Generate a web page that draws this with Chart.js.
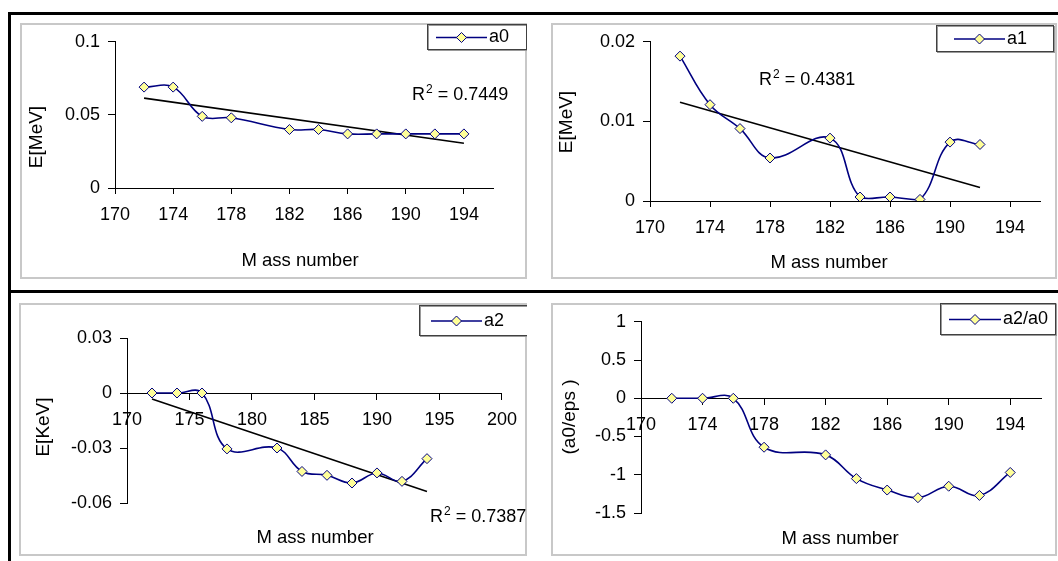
<!DOCTYPE html>
<html>
<head>
<meta charset="utf-8">
<script src="https://cdn.jsdelivr.net/npm/chart.js@4.4.1/dist/chart.umd.min.js"></script>
<style>
  body { margin: 0; background: #fff; width: 1058px; height: 561px; overflow: hidden; position: relative; }
  .bar { position: absolute; background: #000; }
  .frame { position: absolute; box-sizing: border-box; border: 2px solid #c8c8c8; }
  canvas { position: absolute; }
</style>
</head>
<body>
<div class="bar" style="left:8px;top:12px;width:1050px;height:3px"></div>
<div class="bar" style="left:8px;top:12px;width:3px;height:549px"></div>
<div class="bar" style="left:8px;top:290px;width:1050px;height:3px"></div>

<div class="frame" style="left:20px;top:23px;width:507px;height:256px"></div>
<div class="frame" style="left:551px;top:23px;width:506px;height:256px"></div>
<div class="frame" style="left:19px;top:303px;width:508px;height:253px"></div>
<div class="frame" style="left:551px;top:303px;width:506px;height:253px"></div>

<canvas id="chartA0"></canvas>
<canvas id="chartA1"></canvas>
<canvas id="chartA2"></canvas>
<canvas id="chartRatio"></canvas>

<script>
        const FONT = 'Arial, "Liberation Sans", sans-serif';
        const NAVY = '#000080';
        const MARKER_FILL = '#ffff99';

        // a0 (MeV)
        const massA0 = [172, 174, 176, 178, 182, 184, 186, 188, 190, 192, 194];
        const a0Values = [0.069, 0.069, 0.049, 0.048, 0.040, 0.040, 0.037, 0.037, 0.037, 0.037, 0.037];
        const a0TrendMass = [172, 194];
        const a0TrendValues = [0.0615, 0.0306];
        const a0XTicks = [170, 174, 178, 182, 186, 190, 194];
        const a0YTicks = [0, 0.05, 0.1];

        // a1 (MeV)
        const massA1 = [172, 174, 176, 178, 182, 184, 186, 188, 190, 192];
        const a1Values = [0.0182, 0.0121, 0.0091, 0.0054, 0.0079, 0.0005, 0.0005, 0.0002, 0.0074, 0.0071];
        const a1TrendMass = [172, 192];
        const a1TrendValues = [0.0124, 0.0017];
        const a1XTicks = [170, 174, 178, 182, 186, 190, 194];
        const a1YTicks = [0, 0.01, 0.02];

        // a2 (KeV)
        const massA2 = [172, 174, 176, 178, 182, 184, 186, 188, 190, 192, 194];
        const a2Values = [0, 0, 0, -0.0305, -0.030, -0.0428, -0.0449, -0.0491, -0.0436, -0.0482, -0.0358];
        const a2TrendMass = [172, 194];
        const a2TrendValues = [-0.0033, -0.0537];
        const a2XTicks = [170, 175, 180, 185, 190, 195, 200];
        const a2YTicks = [-0.06, -0.03, 0, 0.03];

        // a2/a0
        const massRatio = [172, 174, 176, 178, 182, 184, 186, 188, 190, 192, 194];
        const ratioValues = [0, 0, 0, -0.64, -0.74, -1.05, -1.20, -1.30, -1.15, -1.27, -0.97];
        const ratioXTicks = [170, 174, 178, 182, 186, 190, 194];
        const ratioYTicks = [-1.5, -1, -0.5, 0, 0.5, 1];

        // Legend, R² label and axis titles drawn on top of each panel
        const panelDecor = {
            id: 'panelDecor',
            afterDraw(chart, args, o) {
                const ctx = chart.ctx;
                const ox = o.origin[0], oy = o.origin[1];
                ctx.save();
                ctx.fillStyle = '#000';
                ctx.textBaseline = 'middle';

                // y title
                ctx.save();
                ctx.translate(o.yTitle[0] - ox, o.yTitle[1] - oy);
                ctx.rotate(-Math.PI / 2);
                ctx.font = '19px ' + FONT;
                ctx.textAlign = 'center';
                ctx.fillText(o.yTitle[2], 0, 0);
                ctx.restore();

                // x title
                ctx.font = '18.5px ' + FONT;
                ctx.textAlign = 'center';
                ctx.fillText('M ass number', o.xTitle[0] - ox, o.xTitle[1] - oy);

                // R² text
                if (o.r2) {
                    let x = o.r2[0] - ox;
                    const y = o.r2[1] - oy;
                    ctx.textAlign = 'left';
                    ctx.textBaseline = 'alphabetic';
                    ctx.font = '18px ' + FONT;
                    ctx.fillText('R', x, y);
                    x += ctx.measureText('R').width;
                    ctx.font = '12px ' + FONT;
                    ctx.fillText('2', x + 1, y - 7);
                    x += ctx.measureText('2').width + 1;
                    ctx.font = '18px ' + FONT;
                    ctx.fillText(' = ' + o.r2[2], x, y);
                    ctx.textBaseline = 'middle';
                }

                // legend box
                const lg = o.legend;
                const bx = lg.box[0] - ox, by = lg.box[1] - oy;
                ctx.fillStyle = '#fff';
                ctx.fillRect(bx, by, lg.box[2], lg.box[3]);
                ctx.strokeStyle = '#9a9a9a';
                ctx.lineWidth = 1;
                ctx.strokeRect(bx + 1.5, by + 1.5, lg.box[2], lg.box[3]);
                ctx.strokeStyle = '#404040';
                ctx.strokeRect(bx + 0.5, by + 0.5, lg.box[2], lg.box[3]);
                const cy = by + lg.box[3] / 2 + 1;
                ctx.strokeStyle = NAVY;
                ctx.lineWidth = 1.5;
                ctx.beginPath();
                ctx.moveTo(lg.line[0] - ox, cy);
                ctx.lineTo(lg.line[1] - ox, cy);
                ctx.stroke();
                const mx = (lg.line[0] + lg.line[1]) / 2 - ox;
                ctx.beginPath();
                ctx.moveTo(mx, cy - 5);
                ctx.lineTo(mx + 5, cy);
                ctx.lineTo(mx, cy + 5);
                ctx.lineTo(mx - 5, cy);
                ctx.closePath();
                ctx.fillStyle = MARKER_FILL;
                ctx.fill();
                ctx.lineWidth = 1;
                ctx.stroke();
                ctx.fillStyle = '#000';
                ctx.font = '18px ' + FONT;
                ctx.textAlign = 'left';
                ctx.fillText(lg.label, lg.line[1] + 2 - ox, cy);
                ctx.restore();
            }
        };
        Chart.register(panelDecor);

        function toPoints(mass, values) {
            return mass.map((m, i) => ({ x: m, y: values[i] }));
        }

        function makePanel(p) {
            const canvas = document.getElementById(p.id);
            canvas.width = p.box[2];
            canvas.height = p.box[3];
            canvas.style.left = p.box[0] + 'px';
            canvas.style.top = p.box[1] + 'px';

            const datasets = [{
                data: toPoints(p.mass, p.values),
                borderColor: NAVY,
                borderWidth: 1.6,
                tension: 0.4,
                pointStyle: 'rectRot',
                pointRadius: 5,
                pointBackgroundColor: MARKER_FILL,
                pointBorderColor: NAVY,
                pointBorderWidth: 1
            }];
            if (p.trendMass) {
                datasets.push({
                    data: toPoints(p.trendMass, p.trendValues),
                    borderColor: '#000',
                    borderWidth: 1.6,
                    tension: 0,
                    pointRadius: 0
                });
            }

            const axisCommon = {
                type: 'linear',
                grid: { drawOnChartArea: false, drawTicks: true, tickLength: 6, tickColor: '#000', tickWidth: 1 },
                border: { color: '#000', width: 1 }
            };

            return new Chart(canvas, {
                type: 'line',
                data: { datasets: datasets },
                options: {
                    responsive: false,
                    animation: false,
                    layout: { padding: { left: 0, top: p.pad[0], right: p.pad[1], bottom: p.pad[2] } },
                    plugins: {
                        legend: { display: false },
                        tooltip: { enabled: false },
                        panelDecor: {
                            origin: [p.box[0], p.box[1]],
                            yTitle: p.yTitle,
                            xTitle: p.xTitle,
                            r2: p.r2,
                            legend: p.legend
                        }
                    },
                    scales: {
                        x: {
                            ...axisCommon,
                            position: p.xAtZero ? { y: 0 } : 'bottom',
                            min: p.xTicks[0],
                            max: p.xMax,
                            afterFit: (s) => { s.height = p.xHeight; },
                            afterBuildTicks: (s) => { s.ticks = p.xTicks.map(v => ({ value: v })); },
                            ticks: { color: '#000', font: { family: FONT, size: 18 }, padding: 10, maxRotation: 0, autoSkip: false, callback: (v) => String(v) }
                        },
                        y: {
                            ...axisCommon,
                            position: 'left',
                            min: p.yTicks[0],
                            max: p.yTicks[p.yTicks.length - 1],
                            afterFit: (s) => { s.width = p.yWidth; },
                            afterBuildTicks: (s) => { s.ticks = p.yTicks.map(v => ({ value: v })); },
                            grid: { drawOnChartArea: false, drawTicks: true, tickLength: 7, tickColor: '#000', tickWidth: 1 },
                            ticks: { color: '#000', font: { family: FONT, size: 18 }, padding: 8, autoSkip: false, callback: (v) => String(v) }
                        }
                    }
                }
            });
        }

        makePanel({
            id: 'chartA0', box: [20, 23, 507, 256], pad: [16, 34, 0], yWidth: 95, xHeight: 91,
            mass: massA0, values: a0Values, trendMass: a0TrendMass, trendValues: a0TrendValues,
            xTicks: a0XTicks, xMax: 196, yTicks: a0YTicks,
            yTitle: [37, 137, 'E[MeV]'], xTitle: [300, 261], r2: [412, 100, '0.7449'],
            legend: { box: [427, 24, 99, 25], line: [436, 487], label: 'a0' }
        });

        makePanel({
            id: 'chartA1', box: [551, 23, 506, 256], pad: [16, 17, 0], yWidth: 99, xHeight: 78,
            mass: massA1, values: a1Values, trendMass: a1TrendMass, trendValues: a1TrendValues,
            xTicks: a1XTicks, xMax: 196, yTicks: a1YTicks,
            yTitle: [567, 122, 'E[MeV]'], xTitle: [829, 263], r2: [759, 85, '0.4381'],
            legend: { box: [936, 25, 117, 26], line: [954, 1005], label: 'a1' }
        });

        makePanel({
            id: 'chartA2', box: [19, 303, 508, 253], pad: [35, 18, 53], yWidth: 108, xHeight: 0, xAtZero: true,
            mass: massA2, values: a2Values, trendMass: a2TrendMass, trendValues: a2TrendValues,
            xTicks: a2XTicks, xMax: 200, yTicks: a2YTicks,
            yTitle: [44, 427, 'E[KeV]'], xTitle: [315, 538], r2: [430, 522, '0.7387'],
            legend: { box: [419, 305, 108, 30], line: [431, 482], label: 'a2' }
        });

        makePanel({
            id: 'chartRatio', box: [551, 303, 506, 253], pad: [15, 16, 43], yWidth: 90, xHeight: 0, xAtZero: true,
            mass: massRatio, values: ratioValues,
            xTicks: ratioXTicks, xMax: 196, yTicks: ratioYTicks,
            yTitle: [570, 417, '(a0/eps )'], xTitle: [840, 539], r2: null,
            legend: { box: [940, 303, 115, 31], line: [949, 1001], label: 'a2/a0' }
        });
</script>
</body>
</html>
